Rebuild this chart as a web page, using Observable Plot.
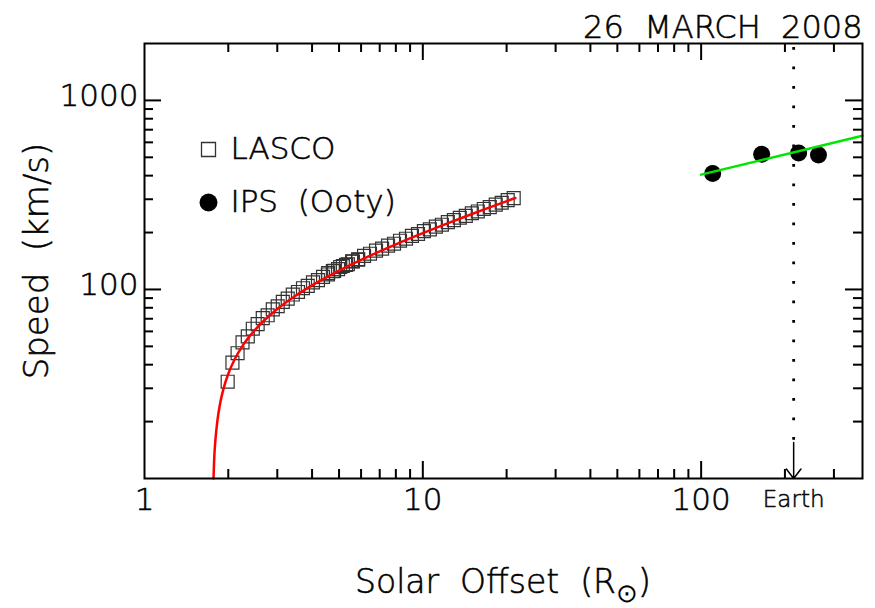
<!DOCTYPE html>
<html><head><meta charset="utf-8">
<script src="https://cdn.jsdelivr.net/npm/d3@7"></script>
<script src="https://cdn.jsdelivr.net/npm/@observablehq/plot@0.6"></script>
<style>
html,body{margin:0;padding:0;background:#fff;}
svg{display:block;}
svg text{white-space:pre;font-weight:200;stroke:#000;stroke-width:0.55px;}
</style>
</head><body><div id="chart"></div>
<script>
// ---- data ----
const title = "26  MARCH  2008";
const xLabelMain = "Solar  Offset  (R";
const xLabelSub = "\u2299";
const xLabelEnd = ")";
const yLabel = "Speed  (km/s)";
const legendLabels = ["LASCO", "IPS  (Ooty)"];
const earthLabel = "Earth";

// LASCO height-time derived speeds (C2 then C3)
const lascoR = [1.99, 2.07, 2.16, 2.25, 2.35, 2.45, 2.55, 2.66, 2.77, 2.89, 3.01, 3.14, 3.27, 3.41, 3.56, 3.71, 3.86, 4.03, 4.20, 4.38, 4.56, 4.75, 4.96, 5.16, 5.38, 5.61, 5.85,
  4.57, 4.80, 5.05, 5.30, 5.57, 5.86, 6.15, 6.46, 6.79, 7.14, 7.50, 7.88, 8.28, 8.70, 9.14, 9.61, 10.09, 10.6, 11.14, 11.71, 12.3, 12.93, 13.58, 14.27, 15.0, 15.76, 16.56, 17.4, 18.28, 19.21, 20.18, 21.21];
const lascoV = [32.5, 41, 46, 52.5, 56.5, 62, 65.5, 70.5, 73, 78.5, 81.5, 86, 89.5, 94, 97, 101.5, 104.5, 109, 112, 116.5, 120, 125, 128, 133, 136, 140.5, 143.5,
  122, 125.5, 131.5, 135, 141, 144.5, 150.5, 154.5, 160.5, 164.5, 170.5, 174.5, 181, 185.5, 192, 196.5, 203.5, 208, 215, 220, 227, 232.5, 239.5, 245, 253, 258.5, 266.5, 272.5, 281, 287.5, 297, 304];

// IPS (Ooty) speeds
const ipsR = [110, 165, 224, 264];
const ipsV = [410, 519, 527, 514];

// red fit curve to LASCO
const fitR = [1.77, 1.78, 1.80, 1.83, 1.87, 1.92, 2.0, 2.1, 2.25, 2.5, 2.75, 3.0, 3.5, 4.0, 5.0, 6.0, 7.0, 8.0, 10, 12, 14, 17, 21.5];
const fitV = [10, 12.7, 16.3, 20.5, 25.0, 29.6, 35.8, 42.2, 50.3, 61.3, 70.6, 78.8, 92.9, 105.1, 125.8, 143.4, 159.1, 173.3, 198.5, 220.8, 241, 268.3, 304.6];

// green fit to IPS
const greenR = [100, 380];
const greenV = [405, 650];

// Earth marker
const earthR = [215];
const arrowTopV = 15.5;

// scales and ticks
const xDomain = [1, 380];
const yDomain = [10, 2000];
const xMajor = [10, 100];
const xMinor = [2, 3, 4, 5, 6, 7, 8, 9, 20, 30, 40, 50, 60, 70, 80, 90, 200, 300];
const yMajor = [100, 1000];
const yMinor = [20, 30, 40, 50, 60, 70, 80, 90, 200, 300, 400, 500, 600, 700, 800, 900];
const xTickValues = [1, 10, 100];
const xTickLabels = ["1", "10", "100"];
const yTickValues = [100, 1000];
const yTickLabels = ["100", "1000"];

// ---- layout ----
const W = 875, H = 608, mL = 144, mR = 13, mT = 43, mB = 130;
const frameW = W - mL - mR, frameH = H - mT - mB;
const majorLen = 17, minorLen = 9;
const font = "DejaVu Sans";

const lasco = lascoR.map((r, i) => ({r, v: lascoV[i]}));
const ips = ipsR.map((r, i) => ({r, v: ipsV[i]}));
const fit = fitR.map((r, i) => ({r, v: fitV[i]}));
const green = greenR.map((r, i) => ({r, v: greenV[i]}));

const chart = Plot.plot({
  width: W, height: H,
  marginLeft: mL, marginRight: mR, marginTop: mT, marginBottom: mB,
  style: {fontFamily: font, background: "white", color: "black"},
  x: {type: "log", domain: xDomain, axis: null},
  y: {type: "log", domain: yDomain, axis: null},
  marks: [
    Plot.dot(lasco, {x: "r", y: "v", symbol: "square", r: 7.3, stroke: "#333", strokeWidth: 1.2, fill: "none"}),
    Plot.line(fit, {x: "r", y: "v", stroke: "#ff0000", strokeWidth: 2.5, curve: "monotone-x"}),
    Plot.dot(ips, {x: "r", y: "v", r: 8.5, fill: "black", stroke: "none"}),
    Plot.line(green, {x: "r", y: "v", stroke: "#00e600", strokeWidth: 2.5}),
    Plot.ruleX(earthR, {x: d => d, y1: yDomain[1], y2: arrowTopV, stroke: "black", strokeWidth: 2.8, strokeDasharray: "2.8,16.7", strokeDashoffset: 15.5}),
    Plot.arrow(earthR, {x1: d => d, x2: d => d, y1: arrowTopV, y2: yDomain[0], stroke: "black", strokeWidth: 1.5, headAngle: 75, headLength: 16}),
    // inward ticks
    Plot.tickX(xMinor, {x: d => d, insetTop: frameH - minorLen, strokeWidth: 2}),
    Plot.tickX(xMinor, {x: d => d, insetBottom: frameH - minorLen, strokeWidth: 2}),
    Plot.tickX(xMajor, {x: d => d, insetTop: frameH - majorLen, strokeWidth: 2}),
    Plot.tickX(xMajor, {x: d => d, insetBottom: frameH - majorLen, strokeWidth: 2}),
    Plot.tickY(yMinor, {y: d => d, insetRight: frameW - minorLen, strokeWidth: 2}),
    Plot.tickY(yMinor, {y: d => d, insetLeft: frameW - minorLen, strokeWidth: 2}),
    Plot.tickY(yMajor, {y: d => d, insetRight: frameW - majorLen, strokeWidth: 2}),
    Plot.tickY(yMajor, {y: d => d, insetLeft: frameW - majorLen, strokeWidth: 2}),
    Plot.frame({stroke: "black", strokeWidth: 2}),
    // tick labels
    Plot.text(xTickValues, {x: d => d, text: (d, i) => xTickLabels[i], frameAnchor: "bottom", lineAnchor: "top", dy: 9, fontSize: 31, fill: "black"}),
    Plot.text(earthR, {x: d => d, text: () => earthLabel, frameAnchor: "bottom", lineAnchor: "top", dy: 12, fontSize: 23, fill: "#222"}),
    Plot.text(yTickValues, {y: d => d, text: (d, i) => yTickLabels[i], frameAnchor: "left", textAnchor: "end", lineAnchor: "bottom", dx: -6, dy: 6, fontSize: 31, fill: "black"}),
    // title
    Plot.text([title], {text: d => d, frameAnchor: "top-right", textAnchor: "end", lineAnchor: "bottom", dy: -6, fontSize: 32, fill: "black"}),
    // y label
    Plot.text([yLabel], {text: d => d, frameAnchor: "left", rotate: -90, textAnchor: "middle", lineAnchor: "bottom", dx: -97, fontSize: 34, fill: "black"}),
    // legend
    Plot.dot([legendLabels[0]], {frameAnchor: "top-left", dx: 64, dy: 106, symbol: "square", r: 7.9, stroke: "#333", strokeWidth: 1.3, fill: "none"}),
    Plot.dot([legendLabels[1]], {frameAnchor: "top-left", dx: 64, dy: 159, r: 9, fill: "black", stroke: "none"}),
    Plot.text([legendLabels[0]], {text: d => d, frameAnchor: "top-left", textAnchor: "start", lineAnchor: "bottom", dx: 86, dy: 115, fontSize: 31, fill: "black"}),
    Plot.text([legendLabels[1]], {text: d => d, frameAnchor: "top-left", textAnchor: "start", lineAnchor: "bottom", dx: 86, dy: 168, fontSize: 31, fill: "black"})
  ]
});

// x-axis title with subscript solar symbol
const svg = d3.select(chart);
const xl = svg.append("text")
  .attr("x", mL + frameW / 2)
  .attr("y", 593)
  .attr("text-anchor", "middle")
  .attr("font-family", font)
  .attr("font-size", 33)
  .attr("fill", "black");
xl.append("tspan").text(xLabelMain);
xl.append("tspan").attr("font-size", 26).attr("dy", 9).style("stroke-width", "0").text(xLabelSub);
xl.append("tspan").attr("dy", -9).text(xLabelEnd);

document.getElementById("chart").appendChild(chart);
</script>
</body></html>
